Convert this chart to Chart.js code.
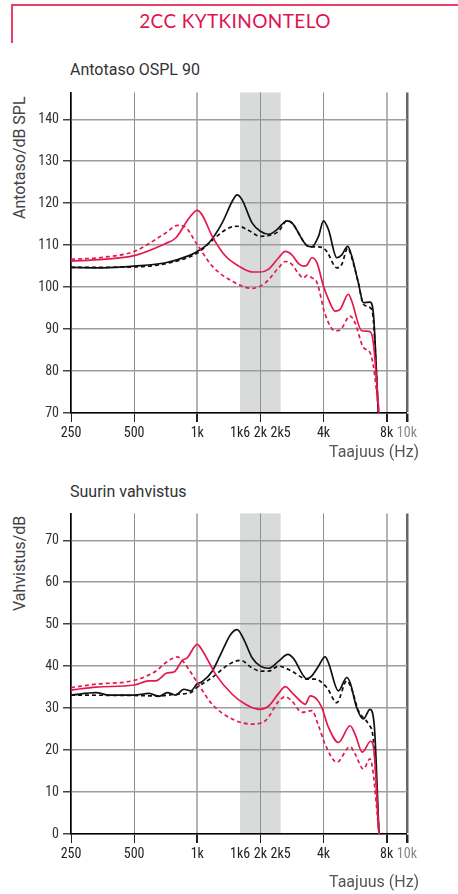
<!DOCTYPE html>
<html>
<head>
<meta charset="utf-8">
<script src="https://cdn.jsdelivr.net/npm/chart.js@4.4.1/dist/chart.umd.min.js"></script>
<style>
  body { margin: 0; background: #fff; width: 458px; height: 894px; position: relative; overflow: hidden; font-family: Roboto, "Liberation Sans", sans-serif; }
  .box { position: absolute; left: 11px; top: 4px; width: 460px; height: 37px; border-left: 2px solid #e4406a; border-top: 2px solid #e4406a; }
  .head { position: absolute; left: 0; top: 9px; width: 470px; text-align: center; color: #e0134f; font-family: Lato, "Open Sans", sans-serif; font-size: 19px; letter-spacing: 0.4px; }
  .title { position: absolute; left: 70px; font-size: 16px; color: #333; }
  .ytitle { position: absolute; font-size: 16px; color: #444; transform-origin: 0 0; transform: rotate(-90deg); white-space: nowrap; }
  .xtitle { position: absolute; left: 329px; font-size: 16px; color: #555; }
  canvas { position: absolute; left: 0; }
</style>
</head>
<body>
<div class="box"></div>
<div class="head">2CC KYTKINONTELO</div>

<div class="title" style="top:60px">Antotaso OSPL 90</div>
<div class="ytitle" style="left:10px; top:219px">Antotaso/dB SPL</div>
<canvas id="osplChart" width="420" height="375" style="top:80px"></canvas>
<div class="xtitle" style="top:442px">Taajuus (Hz)</div>

<div class="title" style="top:482px">Suurin vahvistus</div>
<div class="ytitle" style="left:10px; top:611px">Vahvistus/dB</div>
<canvas id="gainChart" width="420" height="374" style="top:501px"></canvas>
<div class="xtitle" style="top:872px">Taajuus (Hz)</div>

<script>
// x axis ticks (Hz) and their labels
var freqTicks = [250, 500, 1000, 1600, 2000, 2500, 4000, 8000, 10000];
var freqLabels = ['250', '500', '1k', '1k6', '2k', '2k5', '4k', '8k', '10k'];
var bandFreqs = [1600, 2500];

// OSPL 90 (dB SPL)
var osplBlackF = [250, 354, 500, 707, 913, 1000, 1136, 1315, 1467, 1549, 1637, 1826, 2000, 2191, 2400, 2678, 2828, 3333, 3521, 3787, 4000, 4225, 4629, 4888, 5220, 5454, 5867, 6198, 6667, 6912, 7303];
var osplBlack  = [104.7, 104.6, 105.0, 105.8, 107.5, 108.5, 110.5, 115.3, 120.4, 122.0, 120.8, 115.3, 113.3, 112.6, 113.7, 115.8, 115.3, 109.9, 109.6, 112.1, 115.8, 113.7, 107.0, 107.7, 109.7, 107.4, 101.0, 96.3, 96.4, 93.9, 70];
var osplBlackDashF = [250, 500, 707, 1000, 1136, 1268, 1414, 1578, 1760, 2000, 2191, 2444, 2678, 2828, 3333, 3521, 3787, 4000, 4149, 4629, 4888, 5220, 5454, 5867, 6198, 6667, 6912, 7303];
var osplBlackDash  = [104.7, 104.8, 105.6, 108.1, 110.4, 112.5, 114.1, 114.5, 113.5, 112.1, 112.3, 113.3, 115.8, 115.3, 109.9, 109.6, 109.6, 109.3, 108.5, 104.6, 105.4, 109.3, 107.0, 101.0, 95.9, 95.1, 92.3, 70];
var osplRedF = [250, 354, 500, 707, 789, 913, 1000, 1056, 1179, 1364, 1578, 1826, 2000, 2191, 2444, 2630, 2828, 3042, 3214, 3333, 3521, 3718, 4000, 4225, 4545, 4801, 5259, 5454, 6085, 6667, 6912, 7357];
var osplRed  = [106.2, 106.6, 107.5, 110.4, 111.7, 116.4, 118.3, 117.2, 112.1, 107.4, 105.0, 103.6, 103.6, 104.3, 107.0, 108.5, 107.7, 105.6, 105.0, 105.2, 107.0, 105.9, 100.2, 97.1, 94.3, 94.7, 98.3, 96.7, 89.6, 89.4, 86.8, 70];
var osplRedDashF = [250, 354, 500, 707, 803, 864, 1000, 1179, 1467, 1826, 2112, 2444, 2630, 2828, 3042, 3214, 3333, 3521, 3718, 4073, 4545, 4801, 5356, 5657, 6198, 6667, 6912, 7357];
var osplRedDash  = [106.6, 107.1, 108.5, 112.9, 114.7, 114.5, 110.1, 105.0, 101.4, 99.7, 101.0, 104.6, 106.1, 105.4, 103.2, 102.2, 102.8, 102.2, 101.2, 93.5, 89.6, 89.8, 93.1, 91.5, 85.6, 84.4, 81.3, 70];

// Suurin vahvistus (dB)
var gainBlackF = [250, 329, 380, 500, 589, 657, 720, 789, 864, 930, 1000, 1056, 1179, 1315, 1440, 1549, 1667, 1826, 2000, 2191, 2444, 2708, 2880, 3333, 3521, 3787, 4073, 4225, 4714, 5163, 5356, 5761, 6198, 6667, 6988, 7357];
var gainBlack  = [33.1, 33.7, 33.1, 33.1, 33.5, 32.8, 33.7, 33.1, 34.5, 34.1, 35.8, 36.3, 38.8, 43.6, 47.5, 48.7, 46.4, 42.0, 40.0, 39.5, 41.2, 42.8, 41.8, 37.0, 37.7, 40.0, 42.2, 40.8, 34.1, 37.3, 36.1, 30.1, 27.4, 29.7, 25.8, 0];
var gainBlackDashF = [250, 500, 657, 789, 930, 1000, 1179, 1414, 1607, 1826, 2000, 2191, 2444, 2828, 3333, 3651, 4149, 4629, 5163, 5454, 5867, 6548, 6912, 7357];
var gainBlackDash  = [33.1, 33.0, 32.9, 33.3, 33.7, 35.0, 37.3, 40.4, 41.4, 39.6, 38.8, 38.8, 40.0, 38.8, 36.9, 36.9, 34.9, 31.3, 36.5, 34.5, 29.4, 26.2, 22.6, 0];
var gainRedF = [250, 329, 500, 589, 634, 720, 775, 849, 896, 1000, 1056, 1222, 1467, 1697, 1964, 2191, 2444, 2630, 2828, 3099, 3273, 3457, 3718, 3928, 4225, 4714, 5356, 5657, 6129, 6716, 6988, 7357];
var gainRed  = [34.3, 35.0, 35.5, 36.5, 36.5, 38.4, 38.6, 41.4, 42.0, 45.2, 43.8, 38.1, 33.3, 30.9, 29.7, 30.5, 33.5, 35.1, 33.7, 31.7, 30.9, 32.9, 32.1, 30.1, 25.4, 21.8, 25.8, 23.8, 19.5, 22.1, 19.1, 0];
var gainRedDashF = [250, 329, 500, 634, 707, 803, 833, 913, 1000, 1179, 1467, 1826, 2112, 2444, 2630, 2828, 3156, 3521, 3787, 4073, 4629, 5356, 5657, 6198, 6667, 6912, 7357];
var gainRedDash  = [34.9, 35.7, 36.6, 38.8, 40.8, 42.2, 41.8, 39.2, 36.1, 30.9, 27.4, 26.2, 27.0, 31.6, 32.7, 31.7, 29.0, 29.4, 25.8, 21.4, 17.1, 20.8, 19.1, 15.5, 17.9, 14.3, 0];

var RED = '#e5184e';
var BLACK = '#111';
var numFont = { family: "'Liberation Sans Narrow', 'Roboto Condensed', 'DejaVu Sans Condensed', Roboto, sans-serif", size: 14 };

function pts(f, v) {
  return f.map(function (x, i) { return { x: x, y: v[i] }; });
}

function line(f, v, color, dashed) {
  return {
    data: pts(f, v),
    borderColor: color,
    borderWidth: 1.7,
    borderDash: dashed ? [4, 3] : [],
    pointRadius: 0,
    fill: false,
    cubicInterpolationMode: 'monotone'
  };
}

var bandPlugin = {
  id: 'band',
  beforeDraw: function (chart) {
    var a = chart.chartArea, xs = chart.scales.x, c = chart.ctx;
    var x1 = xs.getPixelForValue(bandFreqs[0]), x2 = xs.getPixelForValue(bandFreqs[1]);
    c.save();
    c.fillStyle = '#d9dbdb';
    c.fillRect(x1, a.top, x2 - x1, a.bottom - a.top);
    c.restore();
  }
};

function makeChart(id, sets, ymin, ymax, xHeight) {
  var ctx = document.getElementById(id).getContext('2d');
  return new Chart(ctx, {
    type: 'line',
    data: { datasets: sets },
    plugins: [bandPlugin],
    options: {
      responsive: false,
      animation: false,
      devicePixelRatio: 1,
      layout: { padding: { top: 10, right: 12, left: 0, bottom: 0 } },
      plugins: { legend: { display: false }, tooltip: { enabled: false } },
      scales: {
        x: {
          type: 'logarithmic',
          min: 250,
          max: 10000,
          afterBuildTicks: function (scale) {
            scale.ticks = freqTicks.map(function (v) { return { value: v }; });
          },
          afterFit: function (scale) { scale.height = xHeight; },
          ticks: {
            autoSkip: false,
            maxRotation: 0,
            padding: 3,
            font: numFont,
            color: function (c) { return c.tick && c.tick.value === 10000 ? '#888' : '#222'; },
            callback: function (value) {
              var i = freqTicks.indexOf(value);
              return i >= 0 ? freqLabels[i] : '';
            }
          },
          grid: {
            tickLength: 9,
            color: function (c) {
              var v = c.tick && c.tick.value;
              if (v === 1600 || v === 2500) return 'rgba(0,0,0,0)';
              if (v === 10000) return '#666';
              if (v === 1000 || v === 8000) return '#b4b4b4';
              return '#8e8e8e';
            },
            lineWidth: function (c) {
              var v = c.tick && c.tick.value;
              if (v === 10000) return 2.5;
              if (v === 1000 || v === 8000) return 2;
              return 1;
            },
            tickColor: function (c) {
              var v = c.tick && c.tick.value;
              if (v === 1600 || v === 2500) return 'rgba(0,0,0,0)';
              return '#222';
            }
          },
          border: { color: '#000', width: 1.5 }
        },
        y: {
          min: ymin,
          max: ymax,
          afterFit: function (scale) { scale.width = 71; },
          ticks: { stepSize: 10, includeBounds: false, padding: 4, font: numFont, color: '#333' },
          grid: { color: '#9d9d9d', lineWidth: 1.5, tickLength: 8, tickColor: '#444' },
          border: { color: '#000', width: 1.5 }
        }
      }
    }
  });
}

makeChart('osplChart', [
  line(osplRedDashF, osplRedDash, RED, true),
  line(osplRedF, osplRed, RED, false),
  line(osplBlackDashF, osplBlackDash, BLACK, true),
  line(osplBlackF, osplBlack, BLACK, false)
], 70, 146.4, 42);

makeChart('gainChart', [
  line(gainRedDashF, gainRedDash, RED, true),
  line(gainRedF, gainRed, RED, false),
  line(gainBlackDashF, gainBlackDash, BLACK, true),
  line(gainBlackF, gainBlack, BLACK, false)
], 0, 76.4, 41);
</script>
</body>
</html>
